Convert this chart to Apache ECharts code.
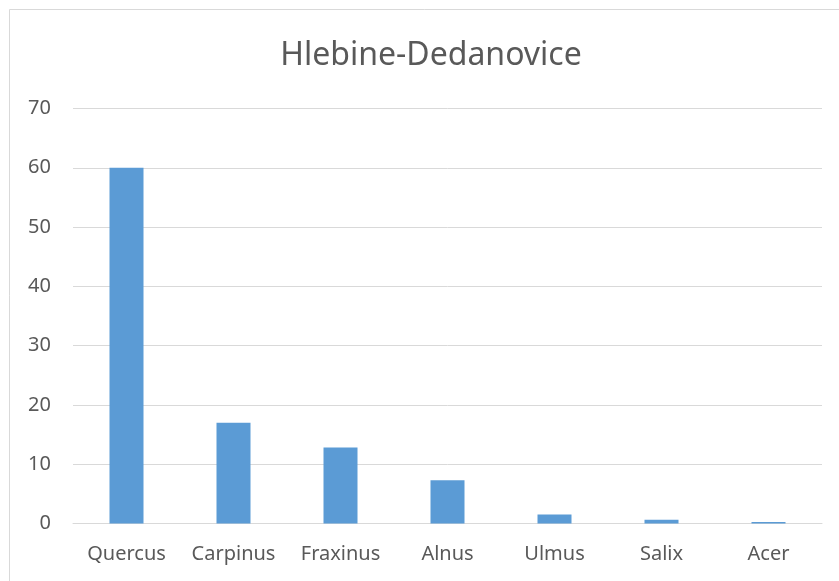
<!DOCTYPE html>
<html>
<head>
<meta charset="utf-8">
<script src="https://cdn.jsdelivr.net/npm/echarts@6/dist/echarts.min.js"></script>
<style>html,body{margin:0;padding:0;background:#fff}#c{width:839px;height:581px}</style>
</head>
<body>
<div id="c"></div>
<script>
const titleText = "Hlebine-Dedanovice";
const categories = ["Quercus", "Carpinus", "Fraxinus", "Alnus", "Ulmus", "Salix", "Acer"];
const values = [60, 17, 12.8, 7.3, 1.5, 0.65, 0.25];
const yTicks = { min: 0, max: 70, interval: 10 };

const chart = echarts.init(document.getElementById('c'), null, { renderer: 'canvas' });
chart.setOption({
  animation: false,
  backgroundColor: '#fff',
  graphic: [{
    type: 'rect', silent: true, z: -1,
    shape: { x: 9.5, y: 9.5, width: 900, height: 700 },
    style: { fill: 'none', stroke: '#d9d9d9', lineWidth: 1 }
  }],
  title: {
    text: titleText, left: 426, top: 35, textAlign: 'center',
    textStyle: { fontFamily: 'Noto Sans', fontSize: 32, fontWeight: 'normal', color: '#595959' }
  },
  grid: { left: 73, right: 17, top: 108.5, bottom: 57.5 },
  xAxis: {
    type: 'category', data: categories,
    axisLine: { lineStyle: { color: '#d9d9d9', width: 1 } },
    axisTick: { show: false },
    axisLabel: { interval: 0, hideOverlap: false, margin: 21, fontFamily: 'Noto Sans', fontSize: 20, color: '#595959' }
  },
  yAxis: {
    type: 'value', min: yTicks.min, max: yTicks.max, interval: yTicks.interval,
    axisLine: { show: false }, axisTick: { show: false },
    splitLine: { lineStyle: { color: '#d9d9d9', width: 1 } },
    axisLabel: { margin: 22, fontFamily: 'Noto Sans', fontSize: 20, color: '#595959' }
  },
  series: [{
    type: 'bar', data: values, barWidth: 34,
    itemStyle: { color: '#5B9BD5' }
  }]
});
</script>
</body>
</html>
